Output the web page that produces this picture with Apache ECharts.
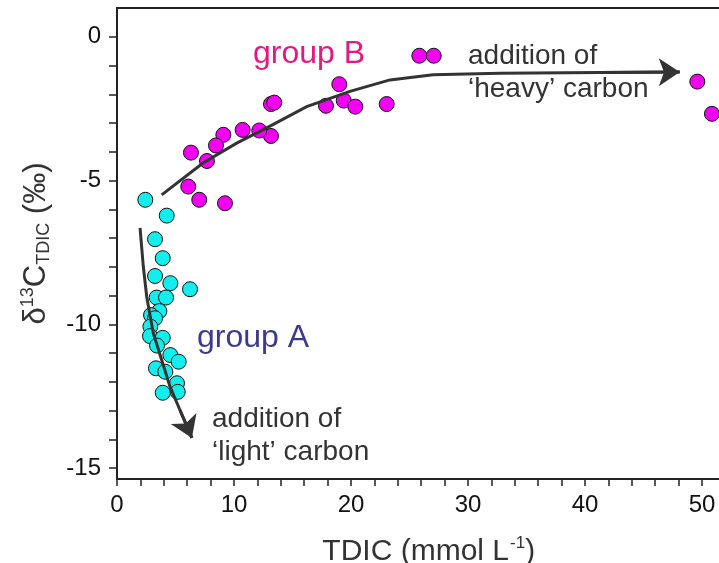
<!DOCTYPE html>
<html>
<head>
<meta charset="utf-8">
<script src="https://cdn.jsdelivr.net/npm/echarts@6/dist/echarts.min.js"></script>
<style>
  html, body { margin: 0; padding: 0; background: #fff; overflow: hidden; }
  #chart { width: 719px; height: 563px; }
</style>
</head>
<body>
<div id="chart"></div>
<script>
// group A (cyan) : [TDIC, d13C]
const groupA = [
  [2.42, -5.67], [4.25, -6.22], [3.25, -7.04], [3.91, -7.70], [3.25, -8.32],
  [4.56, -8.57], [6.24, -8.78], [3.39, -9.07], [4.19, -9.07], [3.62, -9.54],
  [2.91, -9.68], [3.25, -9.79], [2.85, -10.08], [2.82, -10.41], [3.91, -10.47],
  [3.42, -10.74], [4.56, -11.07], [5.27, -11.30], [3.33, -11.53], [4.13, -11.65],
  [5.13, -12.05], [5.19, -12.35], [3.91, -12.38]
];
// group B (magenta)
const groupB = [
  [25.84, -0.66], [27.07, -0.66], [19.0, -1.65], [17.86, -2.40], [19.38, -2.22],
  [20.37, -2.43], [23.05, -2.34], [13.16, -2.34], [13.44, -2.29], [13.16, -3.45],
  [12.16, -3.26], [10.74, -3.24], [9.09, -3.41], [8.46, -3.78], [6.32, -4.03],
  [7.69, -4.32], [6.09, -5.21], [7.03, -5.67], [9.23, -5.79], [49.6, -1.56],
  [50.85, -2.68]
];
// trend arrows
const heavyPath = [
  [3.82, -5.50], [7.35, -4.39], [10.23, -3.70], [13.08, -3.11], [16.21, -2.43],
  [19.91, -1.90], [23.33, -1.50], [27.01, -1.32], [32.74, -1.27], [41.28, -1.24],
  [48.1, -1.23]
];
const lightPath = [
  [1.97, -6.65], [2.25, -8.00], [2.54, -9.04], [3.10, -10.31], [3.82, -11.24],
  [4.53, -12.17], [5.38, -12.98], [6.4, -13.95]
];
// ticks
const xTickLabels = [0, 10, 20, 30, 40, 50];
const xTicks = [0, 2, 4, 6, 8, 10, 12, 14, 16, 18, 20, 22, 24, 26, 28, 30, 32, 34, 36, 38, 40, 42, 44, 46, 48, 50, 52, 54];
const yTickLabels = [0, -5, -10, -15];
const yTicks = [0, -1, -2, -3, -4, -5, -6, -7, -8, -9, -10, -11, -12, -13, -14, -15];

const font = "'Liberation Sans', Arial, sans-serif";
const chart = echarts.init(document.getElementById("chart"));

// last segment of each path carries the arrow head
const lastSeg = (p) => ({ coords: [p[p.length - 2], p[p.length - 1]] });

const option = {
  animation: false,
  textStyle: { fontFamily: font },
  grid: {
    left: 117,
    top: 8,
    height: 471,
    width: 643.5,
    outerBoundsMode: "none",
    containLabel: false,
    show: true,
    borderColor: "#222",
    borderWidth: 2,
  },
  xAxis: {
    type: "value",
    min: 0,
    max: 55,
    name: "{m|TDIC (mmol L}{sup|-1}{m|)}",
    nameLocation: "middle",
    nameGap: 52,
    nameTextStyle: {
      padding: [0, 20, 0, 0],
      rich: {
        m: { fontSize: 30, color: "#333", fontFamily: font, lineHeight: 36, verticalAlign: "bottom" },
        sup: { fontSize: 17, color: "#333", fontFamily: font, lineHeight: 36, verticalAlign: "top", padding: [4, 0, 0, 1] },
      },
    },
    axisLine: { show: true, onZero: false, lineStyle: { color: "#222", width: 2 } },
    axisTick: { show: true, length: 7, customValues: xTicks, lineStyle: { color: "#222", width: 1.5 } },
    axisLabel: { customValues: xTickLabels, fontSize: 24, color: "#111", margin: 14, fontFamily: font },
    splitLine: { show: false },
  },
  yAxis: {
    type: "value",
    min: -15.38,
    max: 1.0,
    name: "{m|δ}{sup|13}{m|C}{sub|TDIC}{m| (‰)}",
    nameLocation: "middle",
    nameRotate: 90,
    nameGap: 60,
    nameTextStyle: {
      rich: {
        m: { fontSize: 31, color: "#333", fontFamily: font, lineHeight: 38, verticalAlign: "middle" },
        sup: { fontSize: 18, color: "#333", fontFamily: font, lineHeight: 38, verticalAlign: "top", padding: [2, 0, 0, 0] },
        sub: { fontSize: 18, color: "#333", fontFamily: font, lineHeight: 38, verticalAlign: "bottom", padding: [0, 0, 2, 0] },
      },
    },
    axisLine: { show: true, onZero: false, lineStyle: { color: "#222", width: 2 } },
    axisTick: { show: true, length: 8, customValues: yTicks, lineStyle: { color: "#222", width: 1.5 } },
    axisLabel: { customValues: yTickLabels, fontSize: 24, color: "#111", margin: 16, fontFamily: font },
    splitLine: { show: false },
  },
  series: [
    {
      type: "scatter",
      data: groupA,
      symbolSize: 15,
      itemStyle: { color: "#12eeee", borderColor: "#111", borderWidth: 1, opacity: 1 },
      z: 2,
    },
    {
      type: "scatter",
      data: groupB,
      symbolSize: 15,
      itemStyle: { color: "#f200f2", borderColor: "#111", borderWidth: 1, opacity: 1 },
      z: 2,
    },
    {
      type: "lines",
      coordinateSystem: "cartesian2d",
      polyline: true,
      lineStyle: { color: "#333", width: 3, opacity: 1 },
      data: [{ coords: heavyPath }, { coords: lightPath }],
      z: 3,
    },
    {
      type: "lines",
      coordinateSystem: "cartesian2d",
      symbol: ["none", "arrow"],
      symbolSize: 21,
      lineStyle: { color: "#333", width: 3, opacity: 1 },
      data: [lastSeg(heavyPath), lastSeg(lightPath)],
      z: 3,
    },
  ],
  graphic: [
    {
      type: "text", left: 253, top: 38, z: 10,
      style: { text: "group B", fontSize: 32, fill: "#e4187f", fontFamily: font },
    },
    {
      type: "text", left: 197, top: 322, z: 10,
      style: { text: "group A", fontSize: 32, fill: "#3c3a8e", fontFamily: font },
    },
    {
      type: "text", left: 468, top: 40, z: 10,
      style: { text: "addition of\n‘heavy’ carbon", fontSize: 28, lineHeight: 33, fill: "#333", fontFamily: font },
    },
    {
      type: "text", left: 212, top: 403, z: 10,
      style: { text: "addition of\n‘light’ carbon", fontSize: 28, lineHeight: 33, fill: "#333", fontFamily: font },
    },
  ],
};

chart.setOption(option);
</script>
</body>
</html>
